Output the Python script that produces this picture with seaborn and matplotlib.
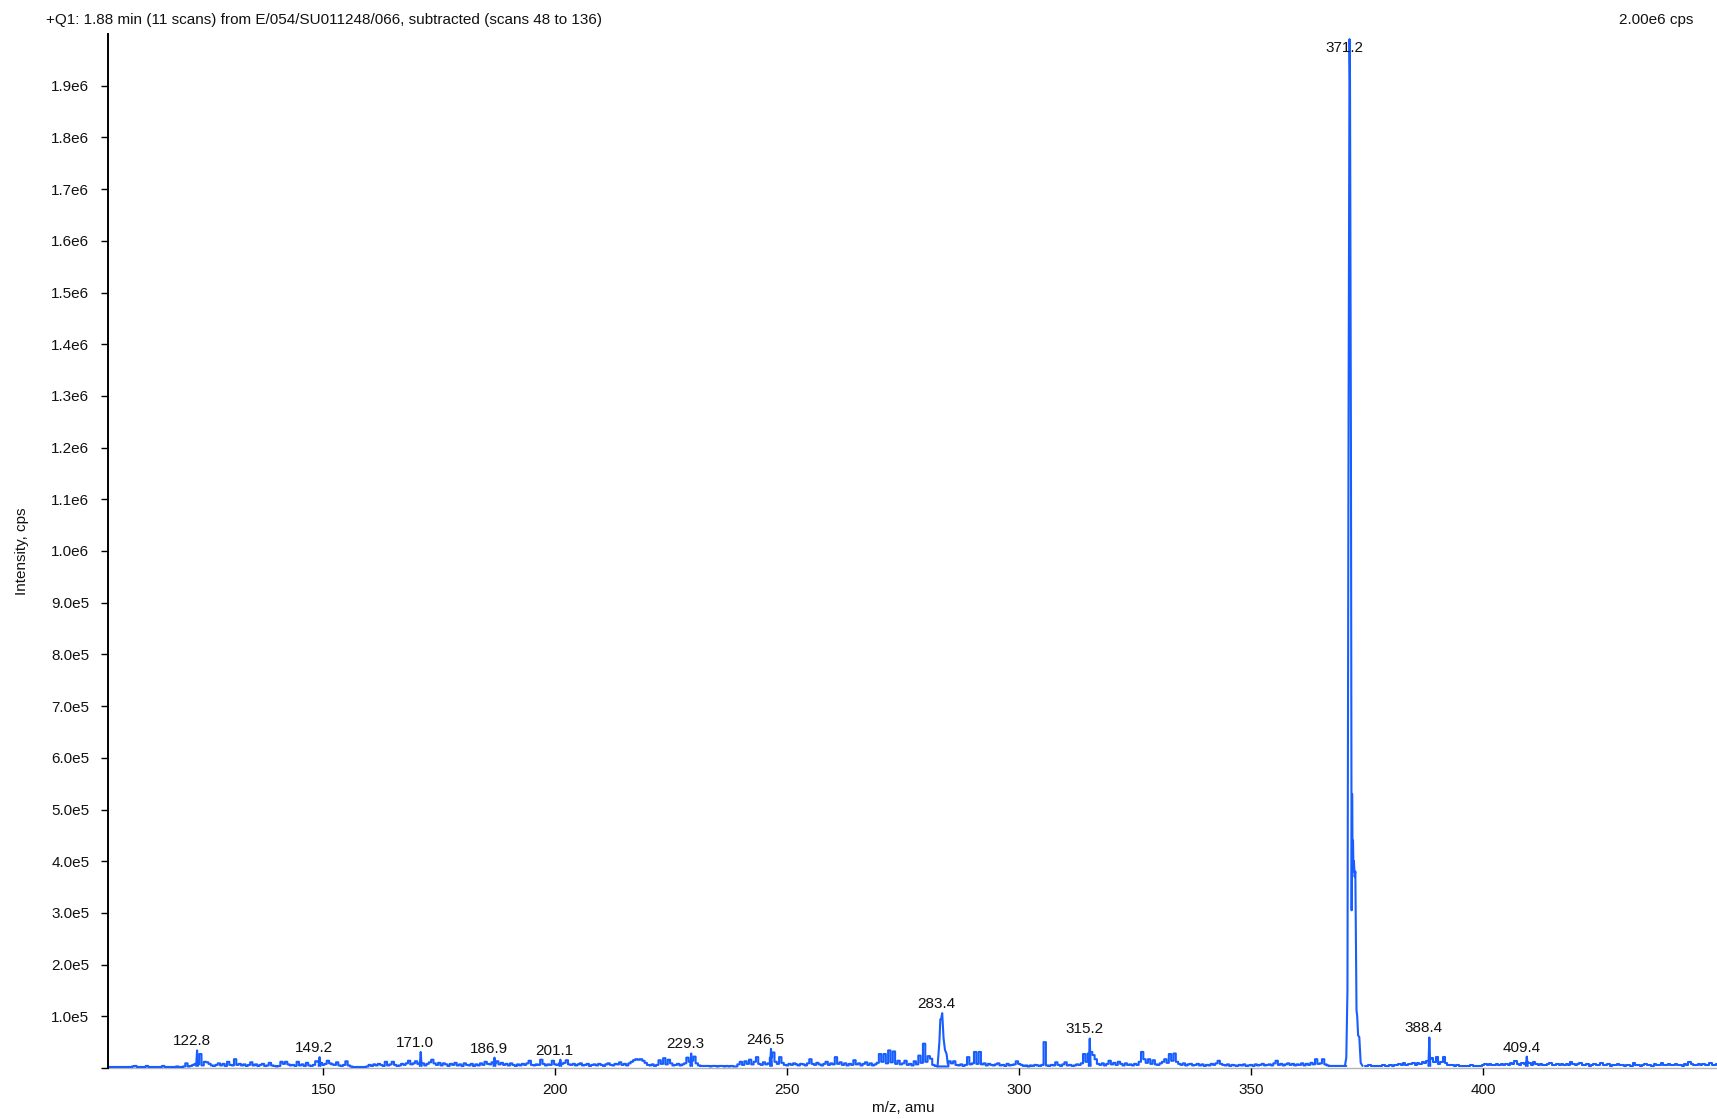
import numpy as np
import pandas as pd
import matplotlib
matplotlib.use("Agg")
import matplotlib.pyplot as plt
import seaborn as sns

# ---------------------------------------------------------------------------
# Spectrum data (intensities in kcps)
# ---------------------------------------------------------------------------
MZ_STEP = 0.5

# background trace, 0.5 amu bins, grouped by start m/z
noise_103 = [2, 2, 2, 2, 2, 2, 2, 2, 2, 2, 2, 3, 4, 2, 2, 2, 2, 4, 2, 2,
             2, 2, 2, 2, 4, 2, 2, 2, 2, 2, 3, 2, 2, 3, 9, 3, 4, 6, 8, 7,
             27, 5, 12, 11, 8, 5, 4, 6, 9, 5, 8, 4, 12, 6, 5, 17, 6, 8, 5, 7,
             4, 6, 11, 5, 7, 4, 6, 8, 4, 5, 10, 5, 4, 3, 4, 12, 8, 12, 7, 5,
             6, 4, 12, 5, 7, 4, 10, 5, 4, 6, 13, 12, 10, 6, 8, 14, 9, 7, 6, 11]
noise_153 = [5, 4, 6, 13, 5, 3, 2, 2, 2, 2, 2, 2, 3, 6, 4, 7, 5, 8, 6, 4,
             12, 5, 7, 12, 6, 4, 5, 8, 6, 9, 14, 7, 9, 13, 8, 10, 9, 5, 8, 11,
             16, 9, 6, 10, 5, 9, 7, 4, 8, 6, 10, 5, 7, 4, 9, 6, 5, 8, 4, 7,
             5, 9, 6, 12, 8, 7, 11, 9, 13, 7, 10, 6, 8, 5, 9, 6, 4, 7, 5, 8,
             6, 9, 14, 6, 5, 7, 6, 16, 8, 5, 7, 6, 14, 7, 6, 9, 8, 10, 15, 7]
noise_203 = [6, 8, 5, 7, 9, 5, 6, 8, 4, 6, 7, 5, 8, 6, 4, 7, 9, 6, 5, 8,
             7, 11, 6, 8, 5, 9, 12, 15, 17, 16, 17, 14, 10, 6, 5, 7, 4, 6, 15, 8,
             19, 7, 16, 9, 5, 6, 8, 5, 7, 9, 20, 12, 14, 22, 9, 5, 4, 4, 4, 4,
             3, 4, 4, 3, 4, 4, 3, 4, 3, 4, 3, 3, 7, 12, 6, 13, 8, 16, 7, 12,
             21, 8, 6, 11, 7, 9, 20, 30, 12, 8, 21, 10, 6, 5, 8, 6, 9, 7, 5, 8]
noise_253 = [7, 5, 9, 17, 8, 6, 10, 7, 5, 8, 12, 6, 9, 7, 21, 8, 11, 6, 9, 5,
             8, 6, 15, 7, 9, 5, 8, 11, 6, 9, 5, 7, 10, 27, 12, 27, 9, 34, 11, 32,
             8, 14, 7, 9, 14, 6, 8, 5, 13, 7, 24, 10, 47, 12, 23, 18, 6, 4, 3, 3,
             3, 3, 3, 13, 9, 13, 6, 5, 7, 4, 6, 21, 7, 9, 31, 8, 31, 7, 9, 5,
             8, 6, 5, 7, 9, 5, 6, 4, 8, 5, 6, 7, 13, 8, 6, 4, 5, 3, 5, 4]
noise_303 = [6, 5, 4, 6, 50, 5, 4, 6, 5, 11, 6, 4, 7, 11, 5, 6, 4, 5, 7, 6,
             9, 27, 12, 28, 31, 25, 17, 8, 6, 9, 5, 8, 14, 7, 10, 6, 12, 8, 5, 9,
             6, 7, 5, 8, 6, 12, 31, 17, 10, 17, 8, 15, 7, 6, 9, 12, 17, 10, 27, 14,
             28, 12, 8, 6, 9, 5, 7, 8, 5, 6, 8, 5, 7, 4, 6, 5, 8, 6, 9, 14,
             8, 6, 5, 7, 4, 6, 5, 4, 6, 5, 7, 4, 5, 6, 4, 7, 5, 6, 8, 5]
noise_353 = [6, 7, 5, 9, 14, 6, 8, 5, 7, 9, 6, 8, 5, 7, 6, 9, 5, 8, 6, 10,
             7, 17, 8, 9, 17, 7, 5, 4, 4, 4, 4, 4, 4, 4, 4,
             np.nan, np.nan, np.nan, np.nan, np.nan, np.nan, np.nan,
             4, 4, 5, 3, 4, 3, 4, 3, 5, 4, 3, 5, 4, 6, 5, 8, 6, 9, 5, 8,
             7, 10, 6, 9, 8, 11, 9, 14, 17, 20, 12, 21, 8, 11, 22, 9, 6, 5, 6, 4,
             5, 4, 3, 4, 3, 4, 5, 3, 4, 3, 4, 5, 8, 5, 7, 6, 5, 8]
noise_403 = [6, 7, 5, 8, 6, 9, 7, 14, 8, 6, 9, 7, 12, 10, 6, 11, 7, 5, 8, 6,
             5, 7, 9, 6, 5, 8, 6, 7, 5, 8, 6, 11, 7, 5, 8, 9, 6, 5, 7, 4,
             6, 8, 5, 6, 10, 6, 5, 7, 4, 6, 5, 7, 5, 6, 4, 5, 6, 4, 9, 5,
             6, 4, 5, 7, 5, 6, 4, 8, 5, 6, 10, 6, 5, 7, 5, 6, 8, 5, 6, 4,
             7, 6, 11, 7, 5, 6, 8, 5, 7, 6, 5, 9, 6, 5, 7, 6, 5]
noise_starts = [103.0, 153.0, 203.0, 253.0, 303.0, 353.0, 403.0]

# labelled peaks
peak_mz = [122.8, 149.2, 171.0, 186.9, 201.1, 229.3, 246.5, 283.4, 315.2, 371.2, 388.4, 409.4]
peak_kcps = [34, 21, 31, 20, 16, 28, 37, 106, 57, 1990, 59, 22]

# resolved profiles of the two strongest ions
profile_283_mz = [282.4, 282.8, 283.0, 283.2, 283.4, 283.7, 284.0, 284.35, 284.6]
profile_283_kcps = [3, 51, 94, 96, 106, 57, 35, 27, 8]
profile_371_mz = [370.2, 370.5, 370.75, 371.0, 371.2, 371.3, 371.5, 371.65, 371.75,
                  371.85, 371.95, 372.05, 372.15, 372.3, 372.45, 372.7, 372.85,
                  373.05, 373.3, 373.6, 374.0]
profile_371_kcps = [4, 20, 150, 1300, 1990, 1910, 1200, 305, 530, 420, 440, 380, 400,
                    370, 380, 112, 100, 63, 60, 10, 4]

title_left = "+Q1: 1.88 min (11 scans) from E/054/SU011248/066, subtracted (scans 48 to 136)"
title_right = "2.00e6 cps"
x_label = "m/z, amu"
y_label = "Intensity, cps"
x_ticks = [150, 200, 250, 300, 350, 400]

# ---------------------------------------------------------------------------
# Build tables
# ---------------------------------------------------------------------------
segs = [noise_103, noise_153, noise_203, noise_253, noise_303, noise_353, noise_403]
mz_all, val_all = [], []
for start, seg in zip(noise_starts, segs):
    mz_all.append(start + 0.5 + MZ_STEP * np.arange(len(seg)))
    val_all.append(np.asarray(seg, dtype=float))
mz_all = np.concatenate(mz_all)
val_all = np.concatenate(val_all)
gap = np.isnan(val_all)
run = np.cumsum(np.r_[0, np.diff(gap.astype(int)) != 0])
noise_df = pd.DataFrame({"mz": mz_all, "cps": val_all * 1000, "run": run})
noise_df = noise_df[~gap]

profiled = {283.4, 371.2}
stick_rows = []
for i, (m, h) in enumerate(zip(peak_mz, peak_kcps)):
    if m in profiled:
        continue
    for dx, yy in ((-0.2, 4), (0.0, h), (0.2, 4)):
        stick_rows.append({"mz": m + dx, "cps": yy * 1000, "peak": i})
stick_df = pd.DataFrame(stick_rows)

prof_df = pd.concat([
    pd.DataFrame({"mz": profile_283_mz, "cps": np.array(profile_283_kcps) * 1000, "peak": 0}),
    pd.DataFrame({"mz": profile_371_mz, "cps": np.array(profile_371_kcps) * 1000, "peak": 1}),
])

# ---------------------------------------------------------------------------
# Plot
# ---------------------------------------------------------------------------
sns.set_theme(style="white")
plt.rcParams["font.family"] = ["Liberation Sans", "DejaVu Sans"]
FS = 11
plt.rcParams["font.size"] = FS

W, H = 1717, 1119
fig = plt.figure(figsize=(W / 100, H / 100), dpi=100)
ax = fig.add_axes([108 / W, 51 / H, (W - 108) / W, (1068 - 34) / H])

blue = "#175dff"
lw = 1.5
sns.lineplot(data=noise_df, x="mz", y="cps", units="run", estimator=None,
             drawstyle="steps-mid", color=blue, lw=lw, ax=ax, legend=False)
sns.lineplot(data=stick_df, x="mz", y="cps", units="peak", estimator=None,
             color=blue, lw=lw, ax=ax, legend=False)
sns.lineplot(data=prof_df, x="mz", y="cps", units="peak", estimator=None,
             color=blue, lw=lw, ax=ax, legend=False)

ymax = 2.0e6
ax.set_xlim(103.6, 450.4)
ax.set_ylim(0, ymax)

# peak labels
for m, h in zip(peak_mz, peak_kcps):
    y = h * 1000
    if y > 0.95 * ymax:
        ax.annotate(f"{m:.1f}", xy=(m, ymax), xytext=(-4, -5), textcoords="offset points",
                    ha="center", va="top", fontsize=FS, color="#111111")
    else:
        ax.annotate(f"{m:.1f}", xy=(m, y), xytext=(-4, 1.5), textcoords="offset points",
                    ha="center", va="bottom", fontsize=FS, color="#111111")

# y ticks
yt = np.arange(0, ymax, 1e5)
def fmt(v):
    if v == 0:
        return ""
    if v >= 1e6:
        return f"{v / 1e6:.1f}e6"
    return f"{v / 1e5:.1f}e5"
ax.set_yticks(yt)
ax.set_yticklabels([fmt(v) for v in yt])
ax.set_xticks(x_ticks)
ax.set_xticklabels([str(t) for t in x_ticks])
ax.tick_params(axis="y", direction="out", length=5, width=1, color="black",
               pad=8.5, labelsize=FS, left=True, labelcolor="#111111")
ax.tick_params(axis="x", direction="out", length=5, width=1, color="black",
               pad=6, labelsize=FS, bottom=True, labelcolor="#111111")

for side in ("top", "right"):
    ax.spines[side].set_visible(False)
ax.spines["left"].set_color("black")
ax.spines["left"].set_linewidth(1.4)
ax.spines["bottom"].set_color("#b4b4b4")
ax.spines["bottom"].set_linewidth(1.0)
ax.spines["bottom"].set_zorder(0)
ax.grid(False)

ax.set_xlabel(x_label, fontsize=FS, color="#111111")
ax.set_ylabel(y_label, fontsize=FS, color="#111111")
ax.xaxis.set_label_coords((903 - 108) / (W - 108), -(1108 - 1068) / (1068 - 34))
ax.yaxis.set_label_coords(-(108 - 22) / (W - 108), 0.5)
ax.xaxis.label.set_va("center")
ax.yaxis.label.set_va("center")

fig.text(46 / W, 1 - 19.7 / H, title_left, ha="left", va="center", fontsize=FS, color="#111111")
fig.text(1693 / W, 1 - 19.7 / H, title_right, ha="right", va="center", fontsize=FS, color="#111111")

fig.savefig("out.png", dpi=100)
